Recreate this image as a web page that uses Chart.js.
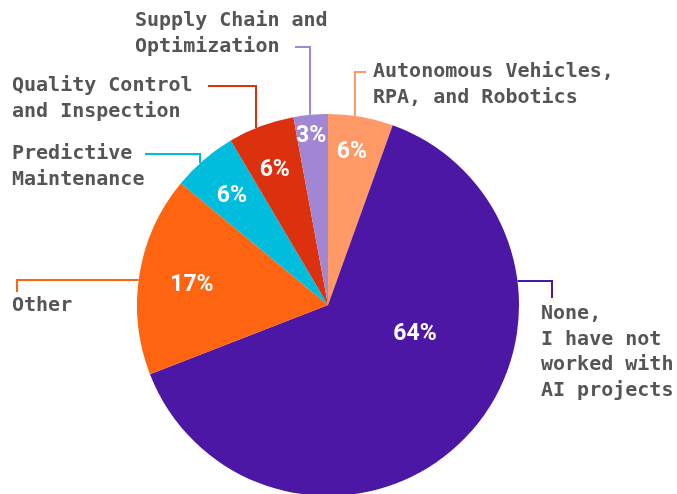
<!DOCTYPE html>
<html>
<head>
<meta charset="utf-8">
<script src="https://cdn.jsdelivr.net/npm/chart.js@4"></script>
<style>
  html, body { margin: 0; padding: 0; background: #fff; overflow: hidden; }
  #wrap { width: 677px; height: 494px; overflow: hidden; }
</style>
</head>
<body>
<div id="wrap"><canvas id="pie" width="677" height="500"></canvas></div>
<script>
// DATI
const categories = [
  ["Autonomous Vehicles,", "RPA, and Robotics"],
  ["None,", "I have not", "worked with", "AI projects"],
  ["Other"],
  ["Predictive", "Maintenance"],
  ["Quality Control", "and Inspection"],
  ["Supply Chain and", "Optimization"]
];
const shares = [5.5, 63.6, 16.9, 5.5, 5.6, 2.9];
const colors = ["#FF9966", "#4D17A6", "#FF6411", "#00BCDD", "#DC310F", "#A186D4"];

// POSIZIONE DELLE ETICHETTE ESTERNE
// text: x, y della prima riga; leader: gomito + punto di partenza sul testo
const outside = [
  { x: 373, y: 72,  align: "left", elbow: [355, 72],  from: [366, 72],  dir: "v" },
  { x: 541, y: 314, align: "left", elbow: [552, 281], from: [552, 298], dir: "h" },
  { x: 12,  y: 306, align: "left", elbow: [17, 280],  from: [17, 292],  dir: "h" },
  { x: 12,  y: 154, align: "left", elbow: [200, 154], from: [145, 154], dir: "v" },
  { x: 12,  y: 86,  align: "left", elbow: [256, 86],  from: [208, 86],  dir: "v" },
  { x: 135, y: 21,  align: "left", elbow: [310, 47],  from: [295, 47],  dir: "v" }
];
// percentuali dentro le fette: spostamento angolare (gradi) e frazione del raggio
const inside = [[-1, 0.81], [-26, 0.48], [-1, 0.72], [-1, 0.76], [-1, 0.76], [-0.5, 0.89]];

const labelsPlugin = {
  id: "pieLabels",
  afterDatasetsDraw(chart) {
    const ctx = chart.ctx;
    const arcs = chart.getDatasetMeta(0).data;
    const total = shares.reduce((a, b) => a + b, 0);
    ctx.save();

    arcs.forEach((arc, i) => {
      const { x: cx, y: cy, outerRadius: r, startAngle, endAngle } =
        arc.getProps(["x", "y", "outerRadius", "startAngle", "endAngle"], true);
      const o = outside[i];

      // linea guida fino al bordo della torta
      let end;
      if (o.dir === "v") {
        const dx = o.elbow[0] - cx;
        end = [o.elbow[0], cy - Math.sqrt(r * r - dx * dx)];
      } else {
        const dy = o.elbow[1] - cy;
        const side = o.elbow[0] < cx ? -1 : 1;
        end = [cx + side * Math.sqrt(r * r - dy * dy), o.elbow[1]];
      }
      ctx.strokeStyle = colors[i];
      ctx.lineWidth = 2;
      ctx.beginPath();
      ctx.moveTo(o.from[0], o.from[1]);
      ctx.lineTo(o.elbow[0], o.elbow[1]);
      ctx.lineTo(end[0], end[1]);
      ctx.stroke();

      // testo categoria
      ctx.fillStyle = "#555555";
      ctx.font = "bold 20px 'DejaVu Sans Mono'";
      ctx.textAlign = o.align;
      ctx.textBaseline = "middle";
      categories[i].forEach((line, k) => {
        ctx.fillText(line, o.x, o.y + k * 25.5);
      });

      // percentuale
      const mid = (startAngle + endAngle) / 2 + inside[i][0] * Math.PI / 180;
      const rr = r * inside[i][1];
      ctx.fillStyle = "#ffffff";
      ctx.font = "bold 23px Roboto";
      ctx.textAlign = "center";
      ctx.fillText(Math.round(shares[i] / total * 100) + "%",
        cx + Math.cos(mid) * rr, cy + Math.sin(mid) * rr);
    });
    ctx.restore();
  }
};

new Chart(document.getElementById("pie"), {
  type: "pie",
  data: {
    labels: categories.map(c => c.join(" ")),
    datasets: [{
      data: shares,
      backgroundColor: colors,
      borderWidth: 0
    }]
  },
  options: {
    responsive: false,
    animation: false,
    layout: { padding: { top: 114, left: 137, right: 158, bottom: 4 } },
    plugins: {
      legend: { display: false },
      tooltip: { enabled: false }
    }
  },
  plugins: [labelsPlugin]
});
</script>
</body>
</html>
